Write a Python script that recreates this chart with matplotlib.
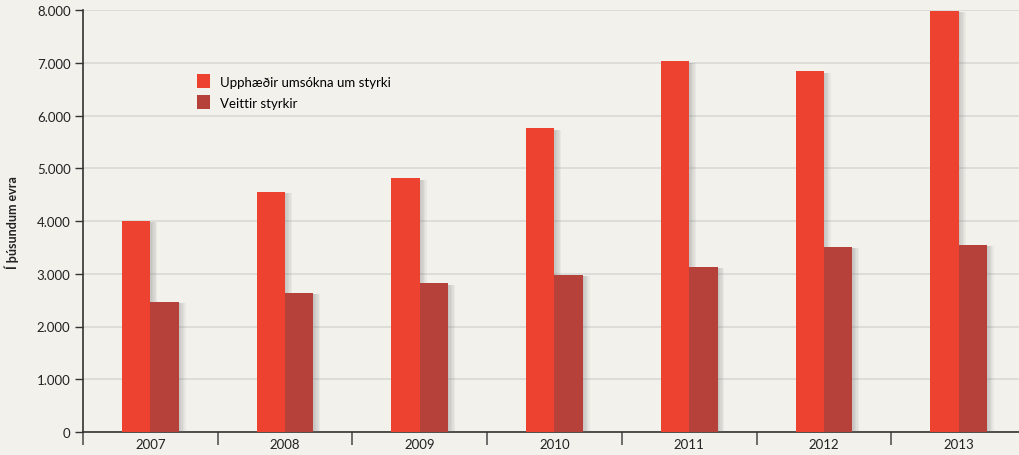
import numpy as np
import matplotlib
matplotlib.use("Agg")
import matplotlib.pyplot as plt
import matplotlib.patheffects as pe
from matplotlib.ticker import FuncFormatter

# data
years = ["2007", "2008", "2009", "2010", "2011", "2012", "2013"]
applied = [4000, 4550, 4810, 5760, 7030, 6840, 7980]
granted = [2470, 2640, 2820, 2980, 3130, 3510, 3545]

bg = "#f2f1ec"
red = "#ee4231"
dark = "#b5413a"

plt.rcParams["font.family"] = ["Lato", "DejaVu Sans"]

fig = plt.figure(figsize=(10.2, 4.56), dpi=100, facecolor=bg)
ax = fig.add_axes([83 / 1020, 23 / 456, 943 / 1020, 422 / 456], facecolor=bg)

x = np.arange(len(years))
w = 0.21
# soft drop shadow, a few stacked layers
shadow = [pe.SimplePatchShadow(offset=(o, -1), shadow_rgbFace="#777777", alpha=0.08) for o in (1, 2, 3, 4, 5)]
shadow.append(pe.Normal())
b1 = ax.bar(x - w / 2, applied, w, color=red, label="Upphæðir umsókna um styrki", zorder=3)
b2 = ax.bar(x + w / 2, granted, w, color=dark, label="Veittir styrkir", zorder=3)
for b in list(b1) + list(b2):
    b.set_path_effects(shadow)

ax.set_xlim(-0.5, 6.5)
ax.set_ylim(0, 8000)
ax.set_yticks(np.arange(0, 8001, 1000))
ax.yaxis.set_major_formatter(FuncFormatter(lambda v, p: f"{int(v):,}".replace(",", ".")))
ax.grid(axis="y", color="#d8d8d6", linewidth=1.2, zorder=0)

ax.set_xticks(x)
ax.set_xticklabels(years)
ax.set_xticks(np.arange(-0.5, 7, 1), minor=True)
ax.tick_params(axis="x", which="major", length=0, pad=4, labelsize=9.5, colors="#222222")
ax.tick_params(axis="x", which="minor", length=9, width=1.2, color="#555555")
ax.tick_params(axis="y", length=6, width=1, color="#333333", labelsize=9.5, labelcolor="#222222", pad=3)

for s in ["top", "right"]:
    ax.spines[s].set_visible(False)
ax.spines["left"].set_color("#333333")
ax.spines["bottom"].set_color("#333333")
ax.spines["left"].set_linewidth(1.2)
ax.spines["bottom"].set_linewidth(1.2)

fig.text(12 / 1020, 0.5 + 5 / 456, "Í þúsundum evra", rotation=90, ha="center", va="center",
         fontsize=9, fontweight="bold", color="#222222")

leg = ax.legend(loc="upper left", bbox_to_anchor=(109 / 943, 1 - 59 / 422), frameon=False,
                fontsize=9.5, handlelength=1.0, handleheight=1.25, handletextpad=0.75,
                labelspacing=0.55, borderaxespad=0)
for h in leg.legend_handles:
    h.set_path_effects([])

fig.savefig("out.png", dpi=100, facecolor=bg)
